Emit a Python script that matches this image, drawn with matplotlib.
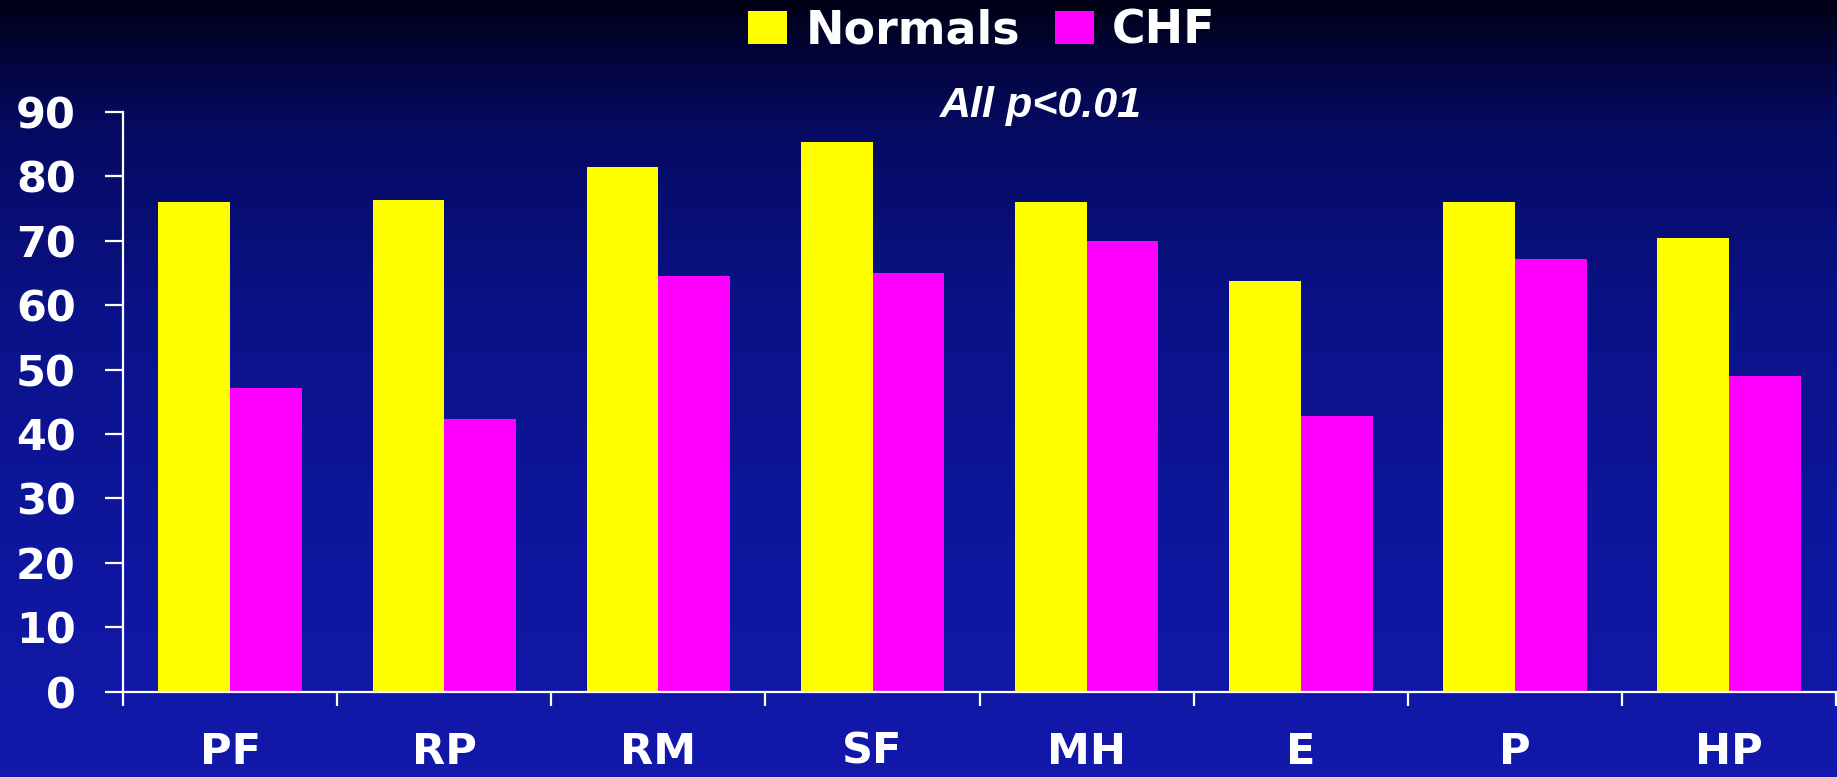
import numpy as np
import matplotlib
matplotlib.use("Agg")
import matplotlib.pyplot as plt
from matplotlib.colors import LinearSegmentedColormap
from matplotlib.ticker import FixedLocator

# SF-36 domain scores
categories = ["PF", "RP", "RM", "SF", "MH", "E", "P", "HP"]
normals = [76.0, 76.3, 81.4, 85.4, 76.1, 63.8, 76.0, 70.5]
chf = [47.2, 42.3, 64.5, 65.0, 69.9, 42.8, 67.2, 49.0]
series_names = ["Normals", "CHF"]
yticks = [0, 10, 20, 30, 40, 50, 60, 70, 80, 90]

fig = plt.figure(figsize=(18.37, 7.77), dpi=100)

# dark-to-blue vertical gradient behind everything
bg = fig.add_axes([0, 0, 1, 1], zorder=-1)
grad = LinearSegmentedColormap.from_list(
    "bg", [(0.0, "#000016"), (0.15, "#050a5e"), (0.4, "#0a1288"),
           (0.7, "#0e169e"), (1.0, "#1219ab")])
bg.imshow(np.linspace(0, 1, 256).reshape(-1, 1), aspect="auto", cmap=grad,
          extent=[0, 1, 0, 1], origin="upper")
bg.axis("off")

ax = fig.add_axes([0.0670, 0.1098, 0.9325, 0.7461])
ax.patch.set_alpha(0)

x = np.arange(len(categories))
w = 0.335
b1 = ax.bar(x - w / 2, normals, w, color="#ffff00", label=series_names[0])
b2 = ax.bar(x + w / 2, chf, w, color="#ff00ff", label=series_names[1])

ax.set_xlim(-0.5, len(categories) - 0.5)
ax.set_ylim(0, 90)

for s in ["top", "right"]:
    ax.spines[s].set_visible(False)
for s in ["left", "bottom"]:
    ax.spines[s].set_color("white")
    ax.spines[s].set_linewidth(1.6)

lab = dict(family="DejaVu Sans", weight="bold", size=31, color="white")

ax.set_yticks(yticks)
ax.set_yticklabels([str(v) for v in yticks], **lab)
ax.tick_params(axis="y", direction="out", length=13, width=1.6,
               color="white", pad=21)

ax.set_xticks(x)
ax.set_xticklabels(categories, **lab)
ax.tick_params(axis="x", which="major", length=0, pad=28)
ax.xaxis.set_minor_locator(FixedLocator(np.arange(-0.5, len(categories), 1.0)))
ax.tick_params(axis="x", which="minor", direction="out", length=10,
               width=1.6, color="white")

ax.text(0.536, 1.01, "All p<0.01", transform=ax.transAxes, ha="center",
        va="center", color="white", fontsize=31, fontstyle="italic",
        fontweight="bold", family="Liberation Sans")

leg = fig.legend(handles=[b1, b2], loc="center", ncol=2, frameon=False,
                 bbox_to_anchor=(0.5345, 1 - 31 / 777), borderpad=0,
                 handlelength=0.85, handleheight=0.7, handletextpad=0.4,
                 columnspacing=0.75,
                 prop=dict(family="DejaVu Sans", weight="bold", size=33))
for t in leg.get_texts():
    t.set_color("white")

fig.savefig("out.png", dpi=100)
